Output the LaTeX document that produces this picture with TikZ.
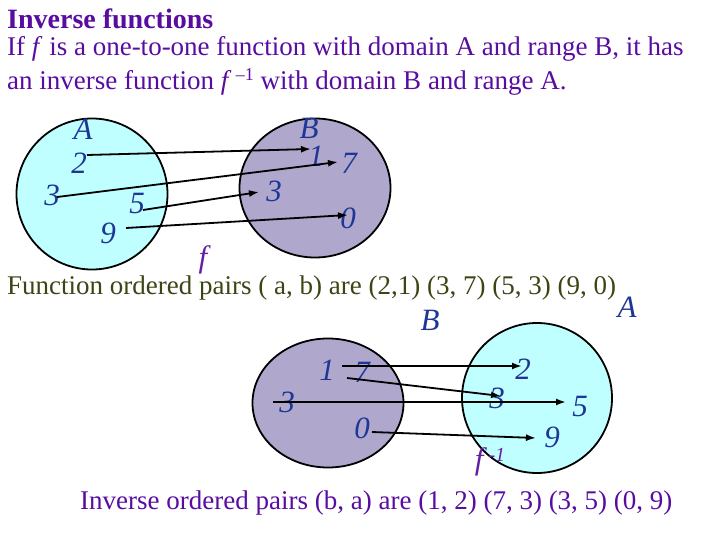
\documentclass[tikz,border=0pt]{standalone}
\usepackage{fontspec}
\setmainfont{Liberation Serif}
\usetikzlibrary{arrows.meta}
\definecolor{txtpurple}{RGB}{88,12,160}
\definecolor{txtgreen}{RGB}{58,70,20}
\definecolor{lblblue}{RGB}{30,55,150}
\definecolor{fpurple}{RGB}{100,30,160}
\definecolor{setcyan}{RGB}{192,255,255}
\definecolor{setgray}{RGB}{176,168,204}
\tikzset{
  body/.style={anchor=base west, inner sep=0pt, font=\fontsize{27}{30}\selectfont},
  lbl/.style={inner sep=0pt, text=lblblue, font=\fontsize{31}{34}\selectfont\itshape},
  setA/.style={draw=black, line width=1.8pt, fill=setcyan},
  setB/.style={draw=black, line width=1.8pt, fill=setgray},
  maparrow/.style={draw=black, line width=1.8pt, -{Latex[length=10pt,width=7pt]}},
}
\begin{document}
\begin{tikzpicture}[x=1pt,y=-1pt]
\useasboundingbox (0,0) rectangle (720,540);
% header text
\node[body, text=txtpurple, font=\fontsize{28}{30}\selectfont\bfseries] (title) at (7,29) {Inverse functions};
\node[body, text=txtpurple] (line1) at (7,56) {If \textit{f} is a one-to-one function with domain A and range B, it has};
\node[body, text=txtpurple] (line2) at (7,90) {an inverse function \textit{f}\,\raisebox{9pt}{\fontsize{18}{20}\selectfont –1} with domain B and range A.};
% top sets
\draw[setA] (92,194) ellipse [x radius=75.5, y radius=75.5];
\draw[setB] (315,188) ellipse [x radius=75.5, y radius=69.5];
\node[lbl] (tA) at (83,129) {A};
\node[lbl] (a2) at (79,163) {2};
\node[lbl] (a3) at (52,195) {3};
\node[lbl] (a5) at (137,204) {5};
\node[lbl] (a9) at (108,233) {9};
\node[lbl] (tB) at (309,128) {B};
\node[lbl] (b1) at (316,156) {1};
\node[lbl] (b7) at (349,163) {7};
\node[lbl] (b3) at (274,191) {3};
\node[lbl] (b0) at (348,218) {0};
\node[lbl, text=fpurple] (f) at (203,260) {f};
\coordinate (s2) at (87,155); \coordinate (e1) at (311,149);
\coordinate (s3) at (57,197); \coordinate (e7) at (338,162);
\coordinate (s5) at (143,210); \coordinate (e3) at (259,192);
\coordinate (s9) at (126,228); \coordinate (e0) at (348,215);
\draw[maparrow] (s2) -- (e1);
\draw[maparrow] (s3) -- (e7);
\draw[maparrow] (s5) -- (e3);
\draw[maparrow] (s9) -- (e0);
% middle text
\node[body, text=txtgreen] (fpairs) at (7,294) {Function ordered pairs ( a, b) are (2,1) (3, 7) (5, 3) (9, 0)};
% bottom sets
\draw[setB] (328,403) ellipse [x radius=75.5, y radius=64.5];
\draw[setA] (537,398) ellipse [x radius=75, y radius=75];
\node[lbl] (bB) at (430,320) {B};
\node[lbl] (bA) at (627,307) {A};
\node[lbl] (c1) at (327,370) {1};
\node[lbl] (c7) at (362,372) {7};
\node[lbl] (c3) at (287,402) {3};
\node[lbl] (c0) at (362,428) {0};
\node[lbl] (d2) at (523,369) {2};
\node[lbl] (d3) at (497,398) {3};
\node[lbl] (d5) at (580,407) {5};
\node[lbl] (d9) at (552,437) {9};
\node[lbl, text=fpurple] (finv) at (490,462) {f\,\raisebox{8pt}{\fontsize{20}{22}\selectfont\itshape -1}};
\coordinate (t1) at (342,366); \coordinate (u2) at (522,366);
\coordinate (t7) at (347,378); \coordinate (u3) at (501,396);
\coordinate (t3) at (273,402); \coordinate (u5) at (566,402);
\coordinate (t0) at (372,432); \coordinate (u9) at (536,438);
\draw[maparrow] (t1) -- (u2);
\draw[maparrow] (t7) -- (u3);
\draw[maparrow] (t3) -- (u5);
\draw[maparrow] (t0) -- (u9);
% bottom text
\node[body, text=txtpurple] (ipairs) at (80,509) {Inverse ordered pairs (b, a) are (1, 2) (7, 3) (3, 5) (0, 9)};
\end{tikzpicture}
\end{document}
